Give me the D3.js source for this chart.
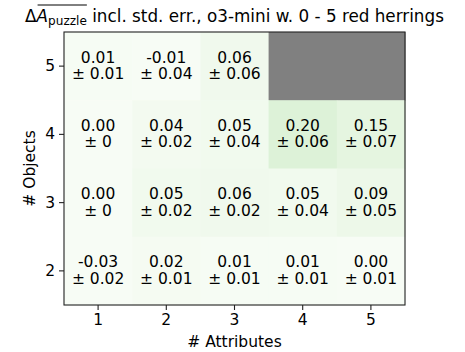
<!doctype html>
<html>
<head>
<meta charset="utf-8">
<script src="https://d3js.org/d3.v7.min.js"></script>
<style>
  body { margin: 0; background: #fff; }
  text { font-family: "DejaVu Sans", sans-serif; fill: #000; white-space: pre; }
</style>
</head>
<body>
<svg id="svg" width="465" height="352"></svg>
<script>
// data (null = no run, grey cell)
let attributes = [1, 2, 3, 4, 5];
let objects = [5, 4, 3, 2];
let means = [
  [0.01, -0.01, 0.06, null, null],
  [0.00, 0.04, 0.05, 0.20, 0.15],
  [0.00, 0.05, 0.06, 0.05, 0.09],
  [-0.03, 0.02, 0.01, 0.01, 0.00]
];
let errs = [
  [0.01, 0.04, 0.06, null, null],
  [0, 0.02, 0.04, 0.06, 0.07],
  [0, 0.02, 0.02, 0.04, 0.05],
  [0.02, 0.01, 0.01, 0.01, 0.01]
];

let margin = { top: 32, right: 60, bottom: 47, left: 64 };
let width = 465, height = 352;
let fsz = 15.5;

let svg = d3.select("#svg");

let xScale = d3.scaleBand().domain(attributes).range([margin.left, width - margin.right]);
let yScale = d3.scaleBand().domain(objects).range([margin.top, height - margin.bottom]);
let cScale = d3.scaleSequential(d3.interpolateGreens).domain([0, 1.3]).clamp(true);

let cells = [];
objects.forEach((o, i) => attributes.forEach((a, j) => {
  cells.push({ o: o, a: a, m: means[i][j], e: errs[i][j] });
}));

let container = svg.append("g");
container.selectAll("rect")
  .data(cells)
  .join("rect")
  .attr("x", d => xScale(d.a))
  .attr("y", d => yScale(d.o))
  .attr("width", xScale.bandwidth() + 0.5)
  .attr("height", yScale.bandwidth() + 0.5)
  .attr("fill", d => d.m === null ? "#808080" : cScale(d.m));

let labels = container.selectAll("text")
  .data(cells.filter(d => d.m !== null))
  .join("text")
  .attr("text-anchor", "middle")
  .attr("font-size", fsz);
labels.append("tspan")
  .attr("x", d => xScale(d.a) + xScale.bandwidth() / 2)
  .attr("y", d => yScale(d.o) + yScale.bandwidth() / 2 - 3.5)
  .text(d => d.m.toFixed(2));
labels.append("tspan")
  .attr("x", d => xScale(d.a) + xScale.bandwidth() / 2)
  .attr("y", d => yScale(d.o) + yScale.bandwidth() / 2 + 13)
  .text(d => "± " + (d.e === 0 ? "0" : d.e.toFixed(2)));

// axes
let xAxis = svg.append("g")
  .attr("transform", `translate(0, ${height - margin.bottom})`)
  .call(d3.axisBottom(xScale).tickSize(5).tickPadding(4));
let yAxis = svg.append("g")
  .attr("transform", `translate(${margin.left}, 0)`)
  .call(d3.axisLeft(yScale).tickSize(5).tickPadding(4));
[xAxis, yAxis].forEach(ax => {
  ax.select(".domain").remove();
  ax.selectAll(".tick line").attr("stroke", "#222").attr("stroke-width", 1.1);
  ax.selectAll(".tick text").attr("font-size", fsz).attr("font-family", "DejaVu Sans").attr("fill", "#000");
});

// frame
svg.append("rect")
  .attr("x", margin.left)
  .attr("y", margin.top)
  .attr("width", width - margin.left - margin.right)
  .attr("height", height - margin.top - margin.bottom)
  .attr("fill", "none")
  .attr("stroke", "#222")
  .attr("stroke-width", 1.1);

svg.append("text")
  .attr("x", (margin.left + width - margin.right) / 2)
  .attr("y", 347)
  .attr("text-anchor", "middle")
  .attr("font-size", fsz)
  .text("# Attributes");

svg.append("text")
  .attr("transform", `translate(35, ${(margin.top + height - margin.bottom) / 2}) rotate(-90)`)
  .attr("text-anchor", "middle")
  .attr("font-size", fsz)
  .text("# Objects");

// title with mathtext-like pieces
let title = svg.append("g");
let fs = 16.8;
let pieces = [
  { t: "Δ", size: fs, style: "normal", dy: 0 },
  { t: "A", size: fs, style: "italic", dy: 0, over: true },
  { t: "puzzle", size: fs * 0.72, style: "normal", dy: 3, over: true },
  { t: " incl. std. err., o3-mini w. 0 - 5 red herrings", size: fs, style: "normal", dy: 0 }
];
let xPos = 0, overStart = null, overEnd = 0;
pieces.forEach(p => {
  let t = title.append("text")
    .attr("x", xPos)
    .attr("y", 22 + p.dy)
    .attr("font-size", p.size)
    .attr("font-style", p.style)
    .text(p.t);
  let w = t.node().getComputedTextLength();
  if (p.over) {
    if (overStart === null) overStart = xPos + 1;
    overEnd = xPos + w;
  }
  xPos += w;
});
title.append("line")
  .attr("x1", overStart).attr("x2", overEnd)
  .attr("y1", 5).attr("y2", 5)
  .attr("stroke", "#000").attr("stroke-width", 1);
let center = (margin.left + width - margin.right) / 2;
title.attr("transform", `translate(${center - xPos / 2}, 0)`);
</script>
</body>
</html>
